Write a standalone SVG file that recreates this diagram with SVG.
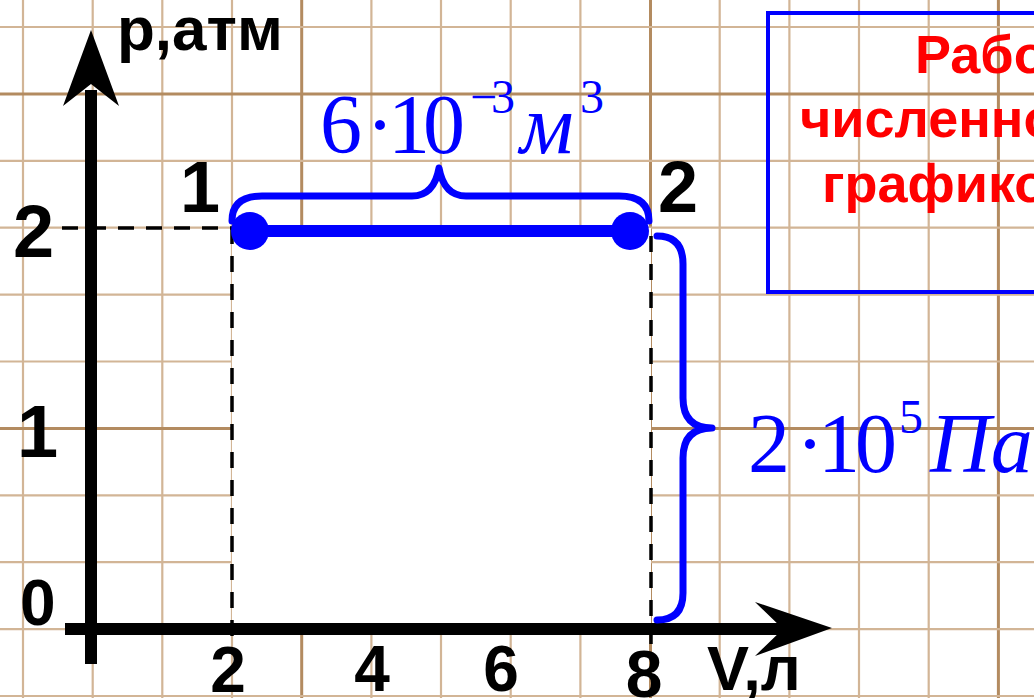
<svg xmlns="http://www.w3.org/2000/svg" width="1034" height="698" viewBox="0 0 1034 698">
<style>
.g{stroke:#d2b596;stroke-width:2.2;fill:none}
.gt{stroke:#b38b60;stroke-width:3;fill:none}
.lab{font-family:"Liberation Sans",Arial,sans-serif;font-weight:bold;fill:#000}
.math{font-family:"Liberation Serif","Times New Roman",serif;fill:#0000ff}
.it{font-style:italic}
.dash{stroke:#000;stroke-width:3.5;stroke-dasharray:16 12;fill:none}
.brace{stroke:#0000ff;stroke-width:7;fill:none;stroke-linecap:round;stroke-linejoin:round}
.red{font-family:"Liberation Sans",Arial,sans-serif;font-weight:bold;fill:#ff0000;font-size:54px}
</style>
<rect width="1034" height="698" fill="#fff"/>
<g id="grid">
<path class="g" d="M23 0V698M92.7 0V698M162.3 0V698M232 0V698M371.4 0V698M441 0V698M510.7 0V698M580.4 0V698M719.7 0V698M789.4 0V698M859 0V698M928.7 0V698"/>
<path class="gt" d="M301.7 0V698M650.5 0V698M998.4 0V698"/>
<path class="g" d="M0 27H1034M0 160.8H1034M0 227.7H1034M0 294.6H1034M0 361.5H1034M0 495.3H1034M0 562.2H1034M0 629.1H1034M0 696H1034"/>
<path class="gt" d="M0 93.9H1034M0 428.4H1034"/>
</g>
<rect x="232" y="228" width="419" height="401" fill="#fff"/>
<g id="connectors">
<path class="dash" d="M62 228H232"/>
<path class="dash" d="M232 228V645"/>
<path class="dash" d="M651 236V650"/>
<path d="M91 664V90" stroke="#000" stroke-width="12"/>
<polygon points="91,30 119,106 91,84 63,106" fill="#000"/>
<path d="M65 629H790" stroke="#000" stroke-width="12"/>
<polygon points="832,628 755,602 783,629 755,656" fill="#000"/>
</g>
<g id="process">
<path d="M250 231H630" stroke="#0000ff" stroke-width="12"/>
<circle cx="250" cy="231" r="19" fill="#0000ff"/>
<circle cx="630" cy="231" r="19" fill="#0000ff"/>
</g>
<g id="brace-top">
<path class="brace" d="M232 221Q232 196 262 196L412 196Q434 196 439 168Q444 196 466 196L619 196Q649 196 649 221"/>
<text class="math" font-size="84" y="153"><tspan x="320">6</tspan><tspan x="366">·</tspan><tspan x="388">1</tspan><tspan x="423">0</tspan><tspan class="it" x="520">м</tspan></text>
<text class="math" font-size="48" y="113"><tspan x="470">−</tspan><tspan x="491">3</tspan><tspan x="580">3</tspan></text>
</g>
<g id="brace-right">
<path class="brace" d="M657 236Q683 236 683 264L683 398Q683 428 712 428Q683 428 683 458L683 593Q683 620 657 620"/>
<text class="math" font-size="84" y="472"><tspan x="748">2</tspan><tspan x="796">·</tspan><tspan x="818">1</tspan><tspan x="855">0</tspan><tspan class="it" x="930">Па</tspan></text>
<text class="math" font-size="48" x="899" y="433">5</text>
</g>
<g id="labels">
<text class="lab" font-size="62" x="117" y="50">p,атм</text>
<text class="lab" font-size="74" x="13" y="257">2</text>
<text class="lab" font-size="74" x="17" y="457">1</text>
<text class="lab" font-size="64" x="20" y="625">0</text>
<text class="lab" font-size="64" x="228" y="692" text-anchor="middle">2</text>
<text class="lab" font-size="64" x="372" y="691" text-anchor="middle">4</text>
<text class="lab" font-size="64" x="501" y="691" text-anchor="middle">6</text>
<text class="lab" font-size="66" x="644" y="697" text-anchor="middle">8</text>
<text class="lab" font-size="63" x="707" y="690">V,л</text>
<text class="lab" font-size="72" x="180" y="212">1</text>
<text class="lab" font-size="72" x="658" y="212">2</text>
</g>
<g id="note">
<rect x="768" y="13" width="280" height="279" fill="none" stroke="#0000ff" stroke-width="4"/>
<text class="red" x="915" y="73">Рабо</text>
<text class="red" x="800" y="137">численно</text>
<text class="red" x="822" y="202">графико</text>
</g>
</svg>
